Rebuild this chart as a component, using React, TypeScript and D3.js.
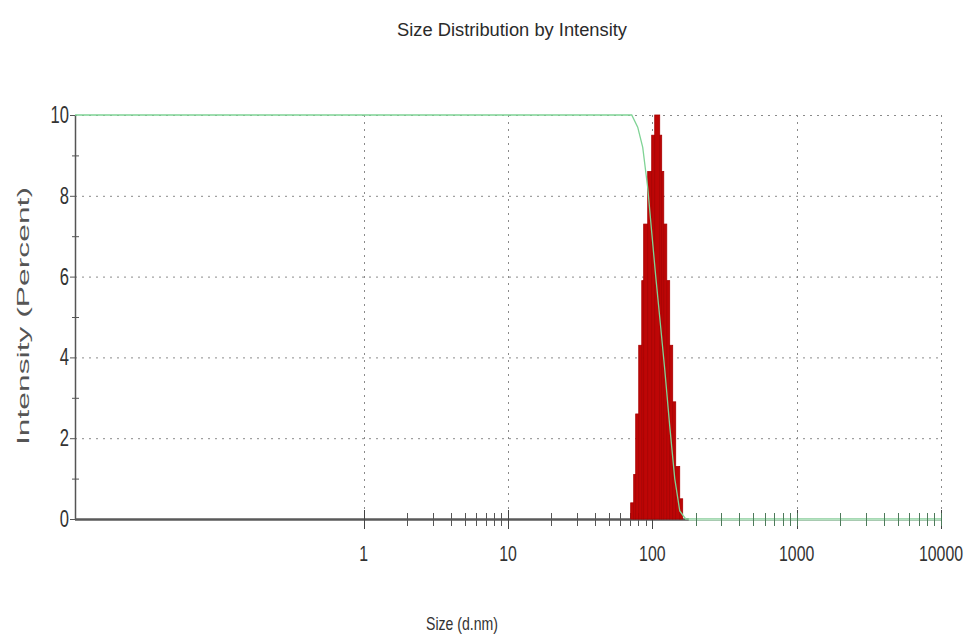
import React, { useEffect, useRef } from "react";
import * as d3 from "d3";

// histogram bins (size edges in d.nm, intensity in %)
const binEdges = [70.8, 74.3, 76.7, 80.5, 84.5, 87.1, 92.9, 99.0, 103.9, 112.5, 116.1, 120.0, 125.9, 131.9, 138.4, 145.2, 154.8, 162.3];
const binHeights = [0.4, 1.1, 2.6, 4.3, 5.9, 7.3, 8.6, 9.5, 10.0, 9.5, 8.6, 7.3, 5.9, 4.3, 2.9, 1.3, 0.5];

// green curve
const curveSizes = [0.01, 72.0, 79.2, 85.8, 92.9, 99.0, 105.6, 112.5, 121.9, 132.0, 143.0, 154.9, 170.4, 10000];
const curveValues = [10, 10, 9.7, 9.2, 8.2, 7.1, 6.0, 5.0, 3.7, 2.3, 1.0, 0.2, 0, 0];

const xMajor = [1, 10, 100, 1000, 10000];
const yMajor = [0, 2, 4, 6, 8, 10];
const yMinor = [1, 3, 5, 7, 9];

const App = () => {
  const svgRef = useRef<SVGSVGElement>(null);

  useEffect(() => {
    const svg = d3.select(svgRef.current);
    svg.selectAll("*").remove();

    const font = "'Liberation Sans', Arial, sans-serif";
    const left = 75, right = 941, top = 115, bottom = 519;

    const x = d3.scaleLog().domain([0.01, 10000]).range([left, right]);
    const y = d3.scaleLinear().domain([0, 10]).range([bottom, top]);

    // title
    svg.append("text")
      .attr("x", 512).attr("y", 36)
      .attr("text-anchor", "middle")
      .attr("font-family", font).attr("font-size", 18)
      .attr("fill", "#2a2a2a")
      .attr("textLength", 230).attr("lengthAdjust", "spacingAndGlyphs")
      .text("Size Distribution by Intensity");

    // grid
    const grid = svg.append("g")
      .attr("stroke", "#8a8a8a").attr("stroke-width", 1)
      .attr("stroke-dasharray", "2,5");
    grid.selectAll("line.h")
      .data(yMajor.filter((d) => d > 0))
      .join("line")
      .attr("class", "h")
      .attr("x1", left).attr("x2", right)
      .attr("y1", (d) => y(d) + 0.5).attr("y2", (d) => y(d) + 0.5);
    grid.selectAll("line.v")
      .data(xMajor)
      .join("line")
      .attr("class", "v")
      .attr("x1", (d) => Math.round(x(d)) + 0.5).attr("x2", (d) => Math.round(x(d)) + 0.5)
      .attr("y1", top).attr("y2", bottom);

    // axes
    svg.append("line")
      .attr("x1", left + 0.5).attr("x2", left + 0.5)
      .attr("y1", top).attr("y2", bottom)
      .attr("stroke", "#555").attr("stroke-width", 1.5);
    svg.append("line")
      .attr("x1", left).attr("x2", right)
      .attr("y1", bottom + 0.5).attr("y2", bottom + 0.5)
      .attr("stroke", "#5a5a5a").attr("stroke-width", 2.5);

    // y ticks
    svg.selectAll("line.yt")
      .data(yMajor)
      .join("line")
      .attr("class", "yt")
      .attr("x1", left - 5).attr("x2", left)
      .attr("y1", (d) => y(d) + 0.5).attr("y2", (d) => y(d) + 0.5)
      .attr("stroke", "#555");
    svg.selectAll("line.ym")
      .data(yMinor)
      .join("line")
      .attr("class", "ym")
      .attr("x1", left - 3).attr("x2", left + 4)
      .attr("y1", (d) => y(d) + 0.5).attr("y2", (d) => y(d) + 0.5)
      .attr("stroke", "#555");
    svg.selectAll("text.yl")
      .data(yMajor)
      .join("text")
      .attr("class", "yl")
      .attr("transform", (d) => `translate(${left - 6},${y(d) + 8}) scale(0.72,1)`)
      .attr("text-anchor", "end")
      .attr("font-family", font).attr("font-size", 23)
      .attr("fill", "#333")
      .text((d) => d);

    // x ticks
    const minor: number[] = [];
    [1, 10, 100, 1000].forEach((dec) => {
      for (let k = 2; k <= 9; k++) minor.push(k * dec);
    });
    svg.selectAll("line.xm")
      .data(minor)
      .join("line")
      .attr("class", "xm")
      .attr("x1", (d) => Math.round(x(d)) + 0.5).attr("x2", (d) => Math.round(x(d)) + 0.5)
      .attr("y1", bottom - 6).attr("y2", bottom + 7)
      .attr("stroke", "#555");
    svg.selectAll("line.xt")
      .data(xMajor)
      .join("line")
      .attr("class", "xt")
      .attr("x1", (d) => Math.round(x(d)) + 0.5).attr("x2", (d) => Math.round(x(d)) + 0.5)
      .attr("y1", bottom - 9).attr("y2", bottom + 10)
      .attr("stroke", "#444");
    svg.selectAll("text.xl")
      .data(xMajor)
      .join("text")
      .attr("class", "xl")
      .attr("transform", (d) => `translate(${x(d)},561) scale(0.72,1)`)
      .attr("text-anchor", "middle")
      .attr("font-family", font).attr("font-size", 22)
      .attr("fill", "#333")
      .text((d) => d);

    // histogram bars
    svg.selectAll("rect.bar")
      .data(binHeights)
      .join("rect")
      .attr("class", "bar")
      .attr("x", (d, i) => x(binEdges[i]))
      .attr("width", (d, i) => x(binEdges[i + 1]) - x(binEdges[i]))
      .attr("y", (d) => y(d))
      .attr("height", (d) => bottom - y(d))
      .attr("fill", "#bd0606")
      .attr("stroke", "#a80000")
      .attr("stroke-width", 0.8);

    // green curve
    const line = d3.line<number>()
      .x((d, i) => x(curveSizes[i]))
      .y((d) => y(d));
    svg.append("path")
      .datum(curveValues)
      .attr("d", line)
      .attr("fill", "none")
      .attr("stroke", "#7fd395")
      .attr("stroke-width", 1.3);
    // zero part of the curve lies on the axis
    const firstZero = curveValues.indexOf(0);
    svg.append("line")
      .attr("x1", x(curveSizes[firstZero]) + 3).attr("x2", right)
      .attr("y1", bottom + 0.5).attr("y2", bottom + 0.5)
      .attr("stroke", "#b4e2c0").attr("stroke-width", 2.5);
    svg.selectAll("line.xm2")
      .data(minor.filter((d) => d > curveSizes[firstZero]).concat([1000, 10000]))
      .join("line")
      .attr("class", "xm2")
      .attr("x1", (d) => Math.round(x(d)) + 0.5).attr("x2", (d) => Math.round(x(d)) + 0.5)
      .attr("y1", bottom - 6).attr("y2", bottom + 7)
      .attr("stroke", "#4d7a5a");

    // axis labels
    svg.append("text")
      .attr("transform", "translate(29,316) rotate(-90)")
      .attr("text-anchor", "middle")
      .attr("font-family", font).attr("font-size", 17)
      .attr("fill", "#555")
      .attr("textLength", 258).attr("lengthAdjust", "spacingAndGlyphs")
      .text("Intensity (Percent)");
    svg.append("text")
      .attr("x", 462).attr("y", 630)
      .attr("text-anchor", "middle")
      .attr("font-family", font).attr("font-size", 19)
      .attr("fill", "#333")
      .attr("textLength", 72).attr("lengthAdjust", "spacingAndGlyphs")
      .text("Size (d.nm)");
  }, []);

  return (
    <svg
      ref={svgRef}
      width={976}
      height={643}
      style={{ position: "absolute", left: 0, top: 0, background: "#fff" }}
    ></svg>
  );
};

export default App;
